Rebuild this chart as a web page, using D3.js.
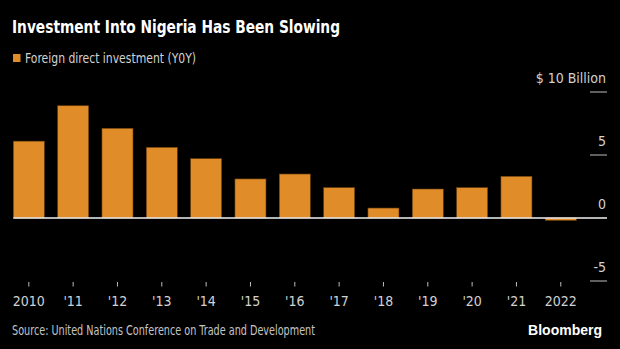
<!DOCTYPE html>
<html>
<head>
<meta charset="utf-8">
<script src="https://cdn.jsdelivr.net/npm/d3@7"></script>
<style>
  html, body { margin: 0; padding: 0; background: #000; }
  svg { display: block; }
  text { font-family: "DejaVu Sans Condensed", "Liberation Sans Narrow", "Liberation Sans", sans-serif; }
</style>
</head>
<body>
<script>
// Nigeria foreign direct investment inflows, $ billion
const years = ["2010", "2011", "2012", "2013", "2014", "2015", "2016", "2017", "2018", "2019", "2020", "2021", "2022"];
const yearLabels = ["2010", "'11", "'12", "'13", "'14", "'15", "'16", "'17", "'18", "'19", "'20", "'21", "2022"];
const fdiValues = [6.10, 8.91, 7.12, 5.61, 4.71, 3.10, 3.49, 2.41, 0.79, 2.30, 2.41, 3.31, -0.19];
const yTicks = [-5, 0, 5, 10];
const yTickLabels = ["-5", "0", "5", "$ 10 Billion"];

const W = 620, H = 349;
const svg = d3.select("body").append("svg").attr("width", W).attr("height", H);

const x = d3.scaleBand().domain(years).range([13.3, 576.3]).paddingInner(0.3).paddingOuter(0);
const y = d3.scaleLinear().domain([-5, 10]).range([281, 92]);

const orange = "#E08C28";

// Condense a text run to a given width
function fit(sel, w) {
  return sel.attr("textLength", w).attr("lengthAdjust", "spacingAndGlyphs");
}

// Title and legend
fit(svg.append("text").attr("x", 12).attr("y", 33)
  .attr("fill", "#fff").attr("font-size", 18).attr("font-weight", "bold")
  .text("Investment Into Nigeria Has Been Slowing"), 328);
svg.append("rect").attr("x", 13).attr("y", 54).attr("width", 7.5).attr("height", 8).attr("fill", orange);
fit(svg.append("text").attr("x", 25).attr("y", 63)
  .attr("fill", "#d2d2d2").attr("font-size", 14.5)
  .text("Foreign direct investment (Y0Y)"), 171);

// Right-side value axis: short tick marks with labels above them
const yAxis = svg.append("g");
yTicks.forEach((t, i) => {
  if (t !== 0) {
    yAxis.append("line").attr("x1", 590).attr("x2", 607)
      .attr("y1", y(t)).attr("y2", y(t)).attr("stroke", "#bdbdbd").attr("stroke-width", 1);
  }
  yAxis.append("text").attr("x", 606).attr("y", y(t) - 9)
    .attr("text-anchor", "end").attr("fill", "#d2d2d2").attr("font-size", 14)
    .text(yTickLabels[i]);
});

// Bars
svg.append("g").selectAll("rect").data(years).join("rect")
  .attr("x", d => x(d))
  .attr("width", x.bandwidth())
  .attr("y", (d, i) => y(Math.max(0, fdiValues[i])))
  .attr("height", (d, i) => Math.abs(y(fdiValues[i]) - y(0)))
  .attr("fill", orange)
  .attr("stroke", "#6b3f0c").attr("stroke-width", 0.6);

// Zero line
svg.append("line").attr("x1", 13.3).attr("x2", 607).attr("y1", y(0)).attr("y2", y(0))
  .attr("stroke", "#f2f2f2").attr("stroke-width", 1.5);

// Category axis
const xAxis = svg.append("g");
years.forEach((d, i) => {
  const cx = x(d) + x.bandwidth() / 2;
  xAxis.append("line").attr("x1", cx).attr("x2", cx).attr("y1", 282).attr("y2", 286.5)
    .attr("stroke", "#bdbdbd").attr("stroke-width", 1);
  xAxis.append("text").attr("x", cx).attr("y", 306)
    .attr("text-anchor", "middle").attr("fill", "#d2d2d2").attr("font-size", 14)
    .text(yearLabels[i]);
});

// Footer
fit(svg.append("text").attr("x", 12).attr("y", 335)
  .attr("fill", "#c4c4c4").attr("font-size", 13.5)
  .text("Source: United Nations Conference on Trade and Development"), 303);
svg.append("text").attr("x", 602).attr("y", 335)
  .attr("text-anchor", "end").attr("fill", "#fff").attr("font-size", 14).attr("font-weight", "bold")
  .style("font-family", "'Liberation Sans', sans-serif")
  .text("Bloomberg");
</script>
</body>
</html>
